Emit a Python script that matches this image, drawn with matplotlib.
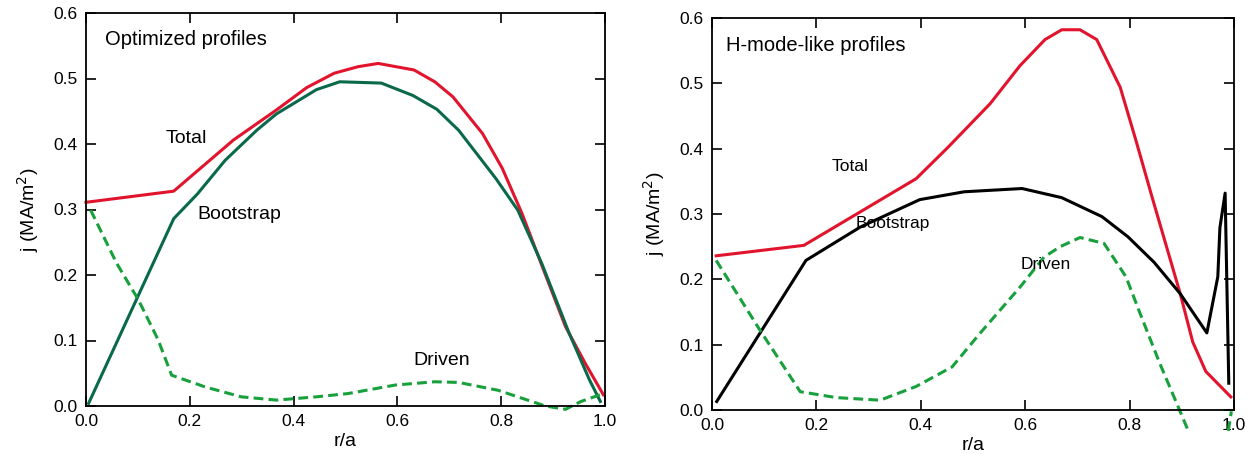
import numpy as np
import matplotlib
matplotlib.use('Agg')
import matplotlib.pyplot as plt

plt.rcParams['font.family'] = ['Liberation Sans', 'DejaVu Sans']

# left panel: optimized profiles
tot_l_x = [0.0, 0.169, 0.284, 0.367, 0.425, 0.478, 0.524, 0.563, 0.632, 0.672, 0.707, 0.764, 0.802, 0.840, 0.882, 0.924, 0.962, 0.997]
tot_l_y = [0.311, 0.328, 0.406, 0.452, 0.486, 0.508, 0.518, 0.523, 0.513, 0.495, 0.472, 0.416, 0.363, 0.294, 0.207, 0.121, 0.065, 0.017]
boot_l_x = [0.005, 0.169, 0.215, 0.268, 0.329, 0.367, 0.444, 0.489, 0.569, 0.630, 0.676, 0.718, 0.790, 0.832, 0.878, 0.931, 0.970, 0.991]
boot_l_y = [0.004, 0.286, 0.324, 0.375, 0.421, 0.446, 0.483, 0.495, 0.493, 0.474, 0.453, 0.421, 0.347, 0.299, 0.218, 0.111, 0.040, 0.007]
drv_l_x = [0.009, 0.059, 0.101, 0.139, 0.165, 0.230, 0.299, 0.367, 0.444, 0.505, 0.596, 0.672, 0.718, 0.794, 0.885, 0.924, 0.954, 0.997]
drv_l_y = [0.299, 0.218, 0.162, 0.101, 0.047, 0.029, 0.014, 0.009, 0.014, 0.019, 0.032, 0.037, 0.036, 0.024, 0.000, -0.005, 0.007, 0.019]

# right panel: H-mode-like profiles
tot_r_x = [0.008, 0.176, 0.391, 0.452, 0.533, 0.590, 0.638, 0.670, 0.705, 0.737, 0.782, 0.812, 0.843, 0.897, 0.921, 0.946, 0.994]
tot_r_y = [0.236, 0.252, 0.354, 0.402, 0.469, 0.527, 0.567, 0.582, 0.582, 0.567, 0.494, 0.413, 0.326, 0.178, 0.104, 0.059, 0.020]
boot_r_x = [0.009, 0.180, 0.284, 0.398, 0.483, 0.594, 0.670, 0.747, 0.797, 0.847, 0.897, 0.948, 0.969, 0.973, 0.983, 0.990]
boot_r_y = [0.013, 0.229, 0.280, 0.322, 0.334, 0.339, 0.325, 0.296, 0.265, 0.226, 0.178, 0.118, 0.204, 0.279, 0.332, 0.041]
drv_r_x = [0.008, 0.092, 0.169, 0.238, 0.322, 0.391, 0.460, 0.513, 0.590, 0.636, 0.667, 0.705, 0.751, 0.793, 0.820, 0.858, 0.893, 0.914, np.nan, 0.989, 0.995]
drv_r_y = [0.229, 0.122, 0.028, 0.019, 0.015, 0.036, 0.066, 0.117, 0.188, 0.234, 0.250, 0.264, 0.255, 0.204, 0.148, 0.071, 0.005, -0.035, np.nan, -0.032, -0.002]

xticks = [0.0, 0.2, 0.4, 0.6, 0.8, 1.0]
yticks = [0.0, 0.1, 0.2, 0.3, 0.4, 0.5, 0.6]

red = '#e2142d'
dkgreen = '#09694a'
ltgreen = '#17a03c'

fig = plt.figure(figsize=(12.47, 4.54), dpi=100)
W, H = 1247, 454
ax1 = fig.add_axes([86/W, 1-406/H, (605-86)/W, (406-13)/H])
ax2 = fig.add_axes([712/W, 1-410/H, (1234-712)/W, (410-18)/H])

def style(ax):
    ax.set_xlim(0, 1)
    ax.set_ylim(0, 0.6)
    ax.set_xticks(xticks)
    ax.set_yticks(yticks)
    ax.set_xticklabels(['%.1f' % t for t in xticks])
    ax.set_yticklabels(['%.1f' % t for t in yticks])
    ax.tick_params(direction='in', length=7, width=1.2, top=True, right=True,
                   labelsize=12.5)
    ax.tick_params(axis='x', pad=6)
    ax.tick_params(axis='y', pad=6)
    for s in ax.spines.values():
        s.set_linewidth(1.3)
    ax.set_xlabel('r/a', fontsize=14, labelpad=3)
    ax.set_ylabel('j (MA/m$^2$)', fontsize=14, labelpad=9)

style(ax1)
ax1.plot(tot_l_x, tot_l_y, color=red, lw=2.2, clip_on=False)
ax1.plot(boot_l_x, boot_l_y, color=dkgreen, lw=2.2, clip_on=False)
ax1.plot(drv_l_x, drv_l_y, color=ltgreen, lw=2.2, dashes=[3.2, 1.7], clip_on=False)
ax1.text(0.036, 0.559, 'Optimized profiles', fontsize=14.5, va='center')
ax1.text(0.154, 0.408, 'Total', fontsize=14, va='center')
ax1.text(0.215, 0.292, 'Bootstrap', fontsize=14, va='center')
ax1.text(0.630, 0.070, 'Driven', fontsize=14, va='center')

style(ax2)
ax2.plot(tot_r_x, tot_r_y, color=red, lw=2.2, clip_on=False)
ax2.plot(boot_r_x, boot_r_y, color='black', lw=2.2, clip_on=False)
ax2.plot(drv_r_x, drv_r_y, color=ltgreen, lw=2.2, dashes=[3.2, 1.7], clip_on=False)
ax2.text(0.027, 0.558, 'H-mode-like profiles', fontsize=14.5, va='center')
ax2.text(0.230, 0.372, 'Total', fontsize=12.5, va='center')
ax2.text(0.276, 0.286, 'Bootstrap', fontsize=12.5, va='center')
ax2.text(0.592, 0.222, 'Driven', fontsize=12.5, va='center')

fig.savefig('out.png', dpi=100)
